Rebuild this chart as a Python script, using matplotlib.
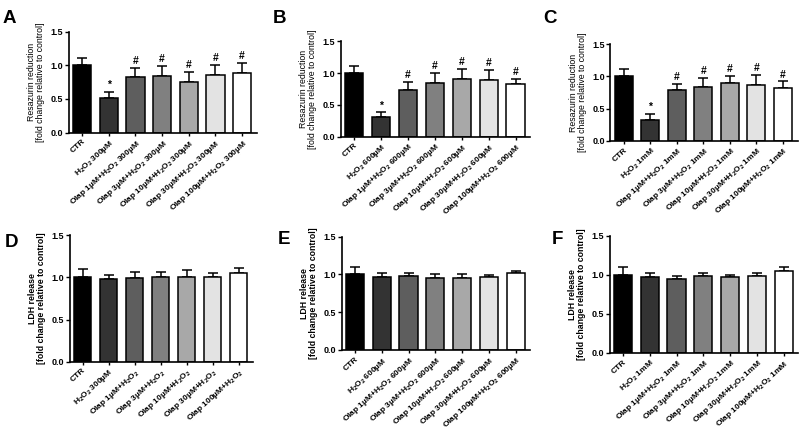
import matplotlib
matplotlib.use("Agg")
import matplotlib.pyplot as plt
import numpy as np

plt.rcParams['font.family'] = ['Liberation Sans', 'DejaVu Sans']
plt.rcParams['mathtext.fontset'] = 'custom'
plt.rcParams['mathtext.rm'] = 'Liberation Sans:bold'
plt.rcParams['mathtext.bf'] = 'Liberation Sans:bold'
plt.rcParams['mathtext.default'] = 'rm'

H2O2 = r'H$_2$O$_2$'
olap_doses = ['1µM', '3µM', '10µM', '30µM', '100µM']

def labels_full(conc):
    return ['CTR', f'{H2O2} {conc}'] + [f'Olap {d}+{H2O2} {conc}' for d in olap_doses]

labels_A = labels_full('300µM')
labels_B = labels_full('600µM')
labels_C = labels_full('1mM')
labels_D = ['CTR', f'{H2O2} 300µM'] + [f'Olap {d}+{H2O2}' for d in olap_doses]
labels_E = labels_full('600µM')
labels_F = labels_full('1mM')

# means and upper error (SD) values
mean_A = [1.00, 0.515, 0.825, 0.84, 0.75, 0.85, 0.88]
err_A = [0.11, 0.085, 0.14, 0.155, 0.155, 0.155, 0.15]
mean_B = [1.00, 0.315, 0.74, 0.84, 0.90, 0.885, 0.825]
err_B = [0.12, 0.065, 0.12, 0.16, 0.16, 0.165, 0.09]
mean_C = [1.00, 0.325, 0.79, 0.835, 0.89, 0.87, 0.815]
err_C = [0.11, 0.095, 0.09, 0.135, 0.11, 0.15, 0.105]
mean_D = [1.00, 0.98, 0.99, 1.00, 1.01, 1.005, 1.055]
err_D = [0.10, 0.05, 0.07, 0.06, 0.075, 0.045, 0.055]
mean_E = [1.00, 0.96, 0.975, 0.955, 0.955, 0.965, 1.02]
err_E = [0.10, 0.06, 0.045, 0.05, 0.05, 0.025, 0.025]
mean_F = [1.00, 0.97, 0.953, 0.987, 0.97, 0.983, 1.047]
err_F = [0.10, 0.06, 0.037, 0.043, 0.025, 0.047, 0.06]

sig_top = ['', '*', '#', '#', '#', '#', '#']
sig_none = [''] * 7

colors = ['#000000', '#333333', '#5e5e5e', '#808080', '#a8a8a8', '#e3e3e3', '#ffffff']

ylab_top = 'Resazurin reduction\n[fold change relative to control]'
ylab_bot = 'LDH release\n[fold change relative to control]'

panels = [
    ('A', mean_A, err_A, labels_A, sig_top, ylab_top, 'normal', [0.086, 0.693, 0.235, 0.234], (0.003, 0.978)),
    ('B', mean_B, err_B, labels_B, sig_top, ylab_top, 'normal', [0.426, 0.684, 0.237, 0.220], (0.341, 0.978)),
    ('C', mean_C, err_C, labels_C, sig_top, ylab_top, 'normal', [0.763, 0.674, 0.234, 0.224], (0.679, 0.978)),
    ('D', mean_D, err_D, labels_D, sig_none, ylab_bot, 'bold', [0.087, 0.163, 0.229, 0.292], (0.006, 0.458)),
    ('E', mean_E, err_E, labels_E, sig_none, ylab_bot, 'bold', [0.427, 0.190, 0.236, 0.262], (0.347, 0.465)),
    ('F', mean_F, err_F, labels_F, sig_none, ylab_bot, 'bold', [0.762, 0.183, 0.236, 0.271], (0.690, 0.465)),
]

fig = plt.figure(figsize=(8, 4.32), dpi=100)

for letter, means, errs, labels, sigs, ylab, ylw, rect, lpos in panels:
    ax = fig.add_axes(rect)
    x = np.arange(len(means))
    ax.bar(x, means, width=0.68, color=colors, edgecolor='black', linewidth=1.1, zorder=2)
    ax.errorbar(x, means, yerr=[np.zeros(len(errs)), errs], fmt='none', ecolor='black',
                elinewidth=1.1, capsize=3.5, capthick=1.1, zorder=1)
    for xi, m, e, s in zip(x, means, errs, sigs):
        if s:
            ax.text(xi, m + e + 0.03, s, ha='center', va='bottom', fontsize=7.5, fontweight='bold')
    ax.set_xlim(-0.5, 6.55)
    ax.set_ylim(0, 1.5)
    ax.set_yticks([0, 0.5, 1.0, 1.5])
    ax.set_yticklabels(['0.0', '0.5', '1.0', '1.5'], fontsize=6.5, fontweight='bold')
    ax.set_xticks(x)
    ax.set_xticklabels(labels, rotation=42, ha='right', rotation_mode='anchor', fontsize=6, fontweight='bold')
    ax.spines['top'].set_visible(False)
    ax.spines['right'].set_visible(False)
    ax.spines['left'].set_linewidth(1.2)
    ax.spines['bottom'].set_linewidth(1.2)
    ax.tick_params(axis='y', length=3, width=1.0, pad=1)
    ax.tick_params(axis='x', length=2, width=1.0, pad=2)
    ax.set_ylabel(ylab, fontsize=6.3, fontweight=ylw, labelpad=4, linespacing=1.0)
    fig.text(lpos[0], lpos[1], letter, fontsize=13.5, fontweight='bold', ha='left', va='top')

fig.savefig('out.png', dpi=100)
